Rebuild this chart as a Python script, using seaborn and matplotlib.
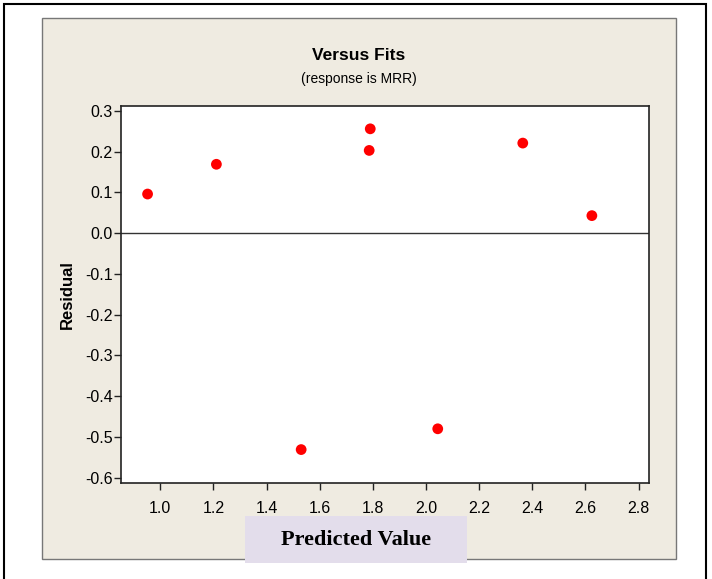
import pandas as pd
import numpy as np
import matplotlib
matplotlib.use("Agg")
import matplotlib.pyplot as plt
import seaborn as sns
from matplotlib.patches import Rectangle

# fitted values and residuals
fits = [0.952, 1.211, 1.790, 1.786, 2.364, 2.624, 1.530, 2.044]
residuals = [0.096, 0.169, 0.256, 0.203, 0.221, 0.043, -0.531, -0.480]
x_ticks = [1.0, 1.2, 1.4, 1.6, 1.8, 2.0, 2.2, 2.4, 2.6, 2.8]
y_ticks = [0.3, 0.2, 0.1, 0.0, -0.1, -0.2, -0.3, -0.4, -0.5, -0.6]

df = pd.DataFrame({"fit": fits, "resid": residuals})

sns.set_style("ticks")
plt.rcParams['font.family'] = ['Liberation Sans', 'DejaVu Sans']
plt.rcParams['text.color'] = 'black'
plt.rcParams['axes.labelcolor'] = 'black'
plt.rcParams['xtick.color'] = 'black'
plt.rcParams['ytick.color'] = 'black'

fig = plt.figure(figsize=(7.12, 5.79), dpi=100)
fig.patch.set_facecolor("white")

# outer black frame and beige panel
fig.patches.append(Rectangle((4/712, -0.05), 702/712, 1.05 - 4/579, transform=fig.transFigure,
                             fill=False, edgecolor="black", linewidth=1.5, zorder=-2))
fig.patches.append(Rectangle((42/712, 1 - 559/579), 634/712, 541/579, transform=fig.transFigure,
                             facecolor="#EFEBE1", edgecolor="#777777", linewidth=1.0, zorder=-2))

ax = fig.add_axes([121/712, 1 - 483/579, 528/712, 377/579])
ax.set_zorder(5)
ax.set_facecolor("white")

sns.scatterplot(data=df, x="fit", y="resid", ax=ax, color="#FF0000", s=60,
                edgecolor="none", marker="o", zorder=3)
ax.axhline(0, color="#333333", linewidth=1.0, zorder=2)

ax.set_xlim(0.852, 2.839)
ax.set_ylim(-0.613, 0.312)
ax.set_xticks(x_ticks)
ax.set_xticklabels([f"{v:.1f}" for v in x_ticks])
ax.set_yticks(y_ticks)
ax.set_yticklabels([f"{v:.1f}" for v in y_ticks])
ax.tick_params(axis="both", direction="out", length=5, width=1, labelsize=11.5, color="#222222")
ax.tick_params(axis="x", pad=8)
ax.tick_params(axis="y", pad=1)
for sp in ax.spines.values():
    sp.set_visible(True)
    sp.set_color("#222222")
    sp.set_linewidth(1.2)

ax.set_xlabel("")
ax.set_ylabel("Residual", fontsize=12, fontweight="bold", labelpad=7)

fig.text(359/712, 1 - 55/579, "Versus Fits", ha="center", va="center",
         fontsize=12.5, fontweight="bold")
fig.text(359/712, 1 - 79/579, "(response is MRR)", ha="center", va="center", fontsize=10)

# x label in a lavender box
fig.patches.append(Rectangle((245/712, 1 - 563/579), 222/712, 47/579, transform=fig.transFigure,
                             facecolor="#E3DDEB", edgecolor="none", zorder=-1))
fig.text(356/712, 1 - 540/579, "Predicted Value", ha="center", va="center",
         fontsize=16, fontweight="bold", family=['Liberation Serif', 'DejaVu Serif'])

fig.savefig("out.png", dpi=100)
